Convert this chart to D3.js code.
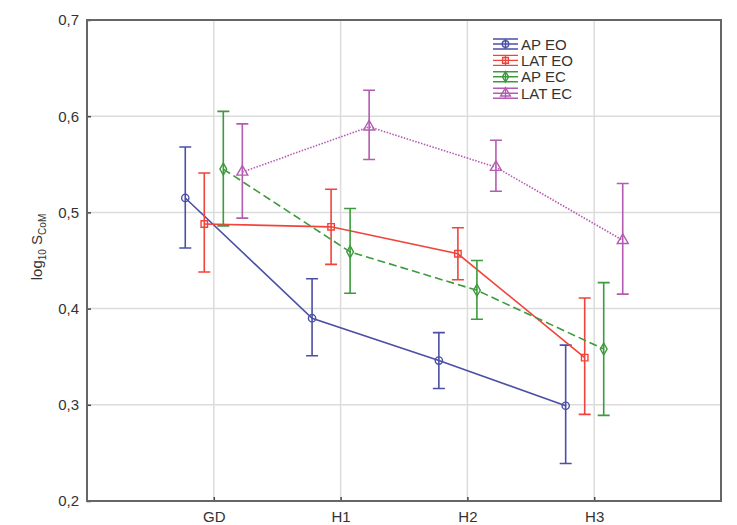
<!DOCTYPE html>
<html>
<head>
<meta charset="utf-8">
<script src="https://cdn.jsdelivr.net/npm/d3@7/dist/d3.min.js"></script>
<style>
  body { margin: 0; background: #fff; }
  svg text { font-family: "Liberation Sans", Arial, sans-serif; fill: #333; }
</style>
</head>
<body>
<div id="chart"></div>
<script>
// categories on the x axis
const categories = ['GD', 'H1', 'H2', 'H3'];
const yTicks = [0.2, 0.3, 0.4, 0.5, 0.6, 0.7];

// series: mean, lower and upper error bound per category
const seriesNames = ['AP EO', 'LAT EO', 'AP EC', 'LAT EC'];
const apEoMean = [0.515, 0.390, 0.346, 0.299];
const apEoLow = [0.463, 0.351, 0.317, 0.239];
const apEoHigh = [0.568, 0.431, 0.375, 0.362];
const latEoMean = [0.488, 0.485, 0.457, 0.349];
const latEoLow = [0.438, 0.446, 0.430, 0.290];
const latEoHigh = [0.541, 0.524, 0.484, 0.411];
const apEcMean = [0.545, 0.459, 0.419, 0.358];
const apEcLow = [0.486, 0.416, 0.389, 0.289];
const apEcHigh = [0.605, 0.504, 0.450, 0.427];
const latEcMean = [0.542, 0.589, 0.547, 0.471];
const latEcLow = [0.494, 0.555, 0.522, 0.415];
const latEcHigh = [0.592, 0.627, 0.575, 0.530];

const width = 737;
const height = 525;
const margin = { top: 20, right: 16, bottom: 24, left: 87 };

const colors = ['#4b4fa6', '#f0443a', '#3d9a3d', '#b45bb2'];
const dashes = [null, null, '8,4', '1.5,1.5'];
const symbols = [d3.symbolCircle, d3.symbolSquare, d3.symbolDiamond, d3.symbolTriangle];
const symbolSizes = [42, 42, 40, 52];

const series = [
  { mean: apEoMean, low: apEoLow, high: apEoHigh },
  { mean: latEoMean, low: latEoLow, high: latEoHigh },
  { mean: apEcMean, low: apEcLow, high: apEcHigh },
  { mean: latEcMean, low: latEcLow, high: latEcHigh },
].map(function(s, k) {
  s.name = seriesNames[k];
  s.index = k;
  return s;
});

const svg = d3.select('#chart').append('svg')
  .attr('width', width)
  .attr('height', height);

const x = d3.scaleLinear()
  .domain([-1, categories.length])
  .range([margin.left, width - margin.right]);

const y = d3.scaleLinear()
  .domain([0.2, 0.7])
  .range([height - margin.bottom, margin.top]);

// each series is shifted sideways so the error bars don't overlap
const offset = d3.scaleLinear().domain([0, 3]).range([-0.225, 0.225]);

const px = function(i, k) { return x(i + offset(k)); };

// grid
svg.append('g').selectAll('line')
  .data(yTicks.slice(1, -1))
  .join('line')
  .attr('x1', x.range()[0]).attr('x2', x.range()[1])
  .attr('y1', function(d) { return y(d); })
  .attr('y2', function(d) { return y(d); })
  .attr('stroke', '#dcdcdc').attr('stroke-width', 1.5);

svg.append('g').selectAll('line')
  .data(categories)
  .join('line')
  .attr('x1', function(d, i) { return x(i); })
  .attr('x2', function(d, i) { return x(i); })
  .attr('y1', y.range()[0]).attr('y2', y.range()[1])
  .attr('stroke', '#dcdcdc').attr('stroke-width', 1.5);

// axes
const fmt = function(d) { return d3.format('.1f')(d).replace('.', ','); };

const yAxis = svg.append('g')
  .attr('transform', 'translate(' + margin.left + ',0)')
  .call(d3.axisLeft(y).tickValues(yTicks).tickFormat(fmt).tickSize(-4).tickPadding(8));

const xAxis = svg.append('g')
  .attr('transform', 'translate(0,' + (height - margin.bottom) + ')')
  .call(d3.axisBottom(x).tickValues(d3.range(categories.length))
    .tickFormat(function(i) { return categories[i]; }).tickSize(-4).tickPadding(10));

[yAxis, xAxis].forEach(function(a) {
  a.select('.domain').remove();
  a.selectAll('.tick line').attr('stroke', '#444').attr('stroke-width', 1.5);
  a.selectAll('.tick text').attr('font-size', 15).attr('font-family', '"Liberation Sans", Arial, sans-serif').attr('fill', '#333');
});

// frame
svg.append('rect')
  .attr('x', x.range()[0]).attr('y', y.range()[1])
  .attr('width', x.range()[1] - x.range()[0])
  .attr('height', y.range()[0] - y.range()[1])
  .attr('fill', 'none').attr('stroke', '#666').attr('stroke-width', 2);

// y label
const yLabel = svg.append('text')
  .attr('transform', 'translate(42,' + 247 + ') rotate(-90)')
  .attr('text-anchor', 'middle')
  .attr('font-size', 15);
yLabel.append('tspan').text('log');
yLabel.append('tspan').text('10').attr('font-size', 10).attr('dy', 4);
yLabel.append('tspan').text(' S').attr('dy', -4);
yLabel.append('tspan').text('CoM').attr('font-size', 10).attr('dy', 4);

// lines
const line = d3.line()
  .x(function(d) { return d[0]; })
  .y(function(d) { return d[1]; });

const groups = svg.append('g').selectAll('g')
  .data(series)
  .join('g')
  .attr('stroke', function(d) { return colors[d.index]; });

groups.append('path')
  .attr('fill', 'none')
  .attr('stroke-width', function(d) { return d.index === 3 ? 1.6 : 1.6; })
  .attr('stroke-dasharray', function(d) { return dashes[d.index]; })
  .attr('d', function(d) {
    return line(d.mean.map(function(v, i) { return [px(i, d.index), y(v)]; }));
  });

// error bars
const capW = 6;
groups.each(function(s) {
  const g = d3.select(this);
  const bars = s.mean.map(function(v, i) {
    return { cx: px(i, s.index), lo: y(s.low[i]), hi: y(s.high[i]), my: y(v) };
  });
  g.selectAll('.eb').data(bars).join('path')
    .attr('fill', 'none').attr('stroke-width', 1.6)
    .attr('d', function(b) {
      return 'M' + b.cx + ',' + b.lo + 'V' + b.hi +
        'M' + (b.cx - capW) + ',' + b.hi + 'H' + (b.cx + capW) +
        'M' + (b.cx - capW) + ',' + b.lo + 'H' + (b.cx + capW);
    });
  g.selectAll('.mk').data(bars).join('path')
    .attr('fill', 'none').attr('stroke-width', 1.4)
    .attr('transform', function(b) { return 'translate(' + b.cx + ',' + b.my + ')'; })
    .attr('d', d3.symbol().type(symbols[s.index]).size(symbolSizes[s.index]));
});

// legend
const legend = svg.append('g').attr('transform', 'translate(493,44)');
const rows = legend.selectAll('g')
  .data(series)
  .join('g')
  .attr('transform', function(d) { return 'translate(0,' + (d.index * 16.4) + ')'; });

rows.append('path')
  .attr('fill', 'none')
  .attr('stroke', function(d) { return colors[d.index]; })
  .attr('stroke-width', 1.4)
  .attr('d', 'M0,-5H25M0,0H25M0,5H25M12.5,-5V5');

rows.append('path')
  .attr('fill', 'none')
  .attr('stroke', function(d) { return colors[d.index]; })
  .attr('stroke-width', 1.4)
  .attr('transform', 'translate(12.5,0)')
  .attr('d', function(d) { return d3.symbol().type(symbols[d.index]).size(symbolSizes[d.index] * 0.8)(); });

rows.append('text')
  .attr('x', 28)
  .attr('y', 5.5)
  .attr('font-size', 15)
  .text(function(d) { return d.name; });
</script>
</body>
</html>
